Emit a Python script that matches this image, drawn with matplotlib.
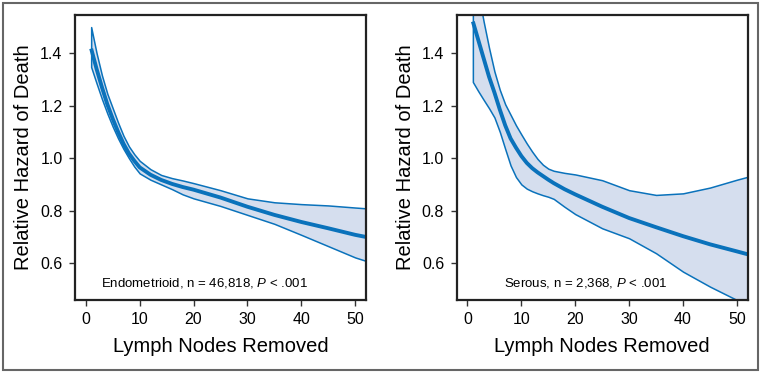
import numpy as np
import matplotlib.pyplot as plt
from matplotlib.patches import Rectangle

plt.rcParams['font.family'] = ['Liberation Sans', 'DejaVu Sans']
plt.rcParams['mathtext.fontset'] = 'custom'
plt.rcParams['mathtext.it'] = 'Liberation Sans:italic'
plt.rcParams['mathtext.rm'] = 'Liberation Sans'

# endometrioid
endo_x = [1, 2, 3, 4, 5, 6, 7, 8, 9, 10, 12, 14, 16, 18, 20, 25, 30, 35, 40, 45, 50, 52]
endo_hr = [1.417, 1.34, 1.27, 1.205, 1.15, 1.10, 1.055, 1.018, 0.99, 0.965, 0.937, 0.917,
           0.902, 0.89, 0.88, 0.85, 0.815, 0.784, 0.757, 0.733, 0.708, 0.70]
endo_hi = [1.499, 1.40, 1.315, 1.245, 1.19, 1.135, 1.085, 1.045, 1.015, 0.99, 0.958, 0.936,
           0.924, 0.915, 0.905, 0.878, 0.847, 0.832, 0.825, 0.82, 0.812, 0.809]
endo_lo = [1.347, 1.285, 1.225, 1.17, 1.12, 1.075, 1.035, 1.0, 0.968, 0.942, 0.918, 0.9,
           0.882, 0.862, 0.847, 0.818, 0.784, 0.75, 0.708, 0.665, 0.622, 0.609]

# serous
ser_x = [1, 2, 3, 4, 5, 6, 7, 8, 9, 10, 11, 12, 13, 14, 15, 16, 18, 20, 25, 30, 35, 40, 45, 50, 52]
ser_hr = [1.52, 1.45, 1.38, 1.31, 1.25, 1.185, 1.125, 1.075, 1.04, 1.008, 0.982, 0.962,
          0.946, 0.932, 0.918, 0.905, 0.882, 0.862, 0.815, 0.772, 0.737, 0.703, 0.672, 0.645, 0.634]
ser_hi = [1.74, 1.63, 1.52, 1.42, 1.33, 1.26, 1.205, 1.165, 1.125, 1.09, 1.056, 1.025,
          0.997, 0.975, 0.96, 0.952, 0.944, 0.938, 0.916, 0.878, 0.86, 0.866, 0.888, 0.918, 0.929]
ser_lo = [1.29, 1.255, 1.222, 1.19, 1.155, 1.1, 1.035, 0.972, 0.928, 0.9, 0.884, 0.874,
          0.866, 0.859, 0.853, 0.845, 0.815, 0.787, 0.733, 0.695, 0.638, 0.568, 0.511, 0.46, 0.43]

panels = [
    (endo_x, endo_hr, endo_lo, endo_hi, 'Endometrioid, n = 46,818, $\\mathit{P}$ < .001'),
    (ser_x, ser_hr, ser_lo, ser_hi, 'Serous, n = 2,368, $\\mathit{P}$ < .001'),
]

line_c = '#0a72bb'
fill_c = '#d5deee'

fig = plt.figure(figsize=(7.65, 3.75), dpi=100)
lefts = [75 / 765, 456.7 / 765]

for left, (x, hr, lo, hi, note) in zip(lefts, panels):
    ax = fig.add_axes([left, 0.2, 291 / 765, 0.76])
    ax.fill_between(x, lo, hi, facecolor=fill_c, edgecolor=line_c, linewidth=1.1)
    ax.plot(x, hr, color=line_c, linewidth=2.8, solid_capstyle='butt')
    ax.set_xlim(-2, 52)
    ax.set_ylim(0.46, 1.545)
    ax.set_xticks([0, 10, 20, 30, 40, 50])
    ax.set_yticks([0.6, 0.8, 1.0, 1.2, 1.4])
    ax.yaxis.set_major_formatter(plt.FormatStrFormatter('%.1f'))
    ax.tick_params(labelsize=11.5, length=4, width=1, color='#333333', pad=5)
    for s in ax.spines.values():
        s.set_linewidth(1.6)
        s.set_color('#222222')
    ax.set_xlabel('Lymph Nodes Removed', fontsize=14.5, labelpad=7)
    ax.set_ylabel('Relative Hazard of Death', fontsize=14.5, labelpad=5)
    ax.text(22, 0.525, note, fontsize=9.5, ha='center', va='center')

fig.patches.append(Rectangle((3 / 765, 5 / 375), 755 / 765, 367 / 375,
                             transform=fig.transFigure, fill=False,
                             edgecolor='#666666', linewidth=1.5))

fig.savefig('out.png', dpi=100)
